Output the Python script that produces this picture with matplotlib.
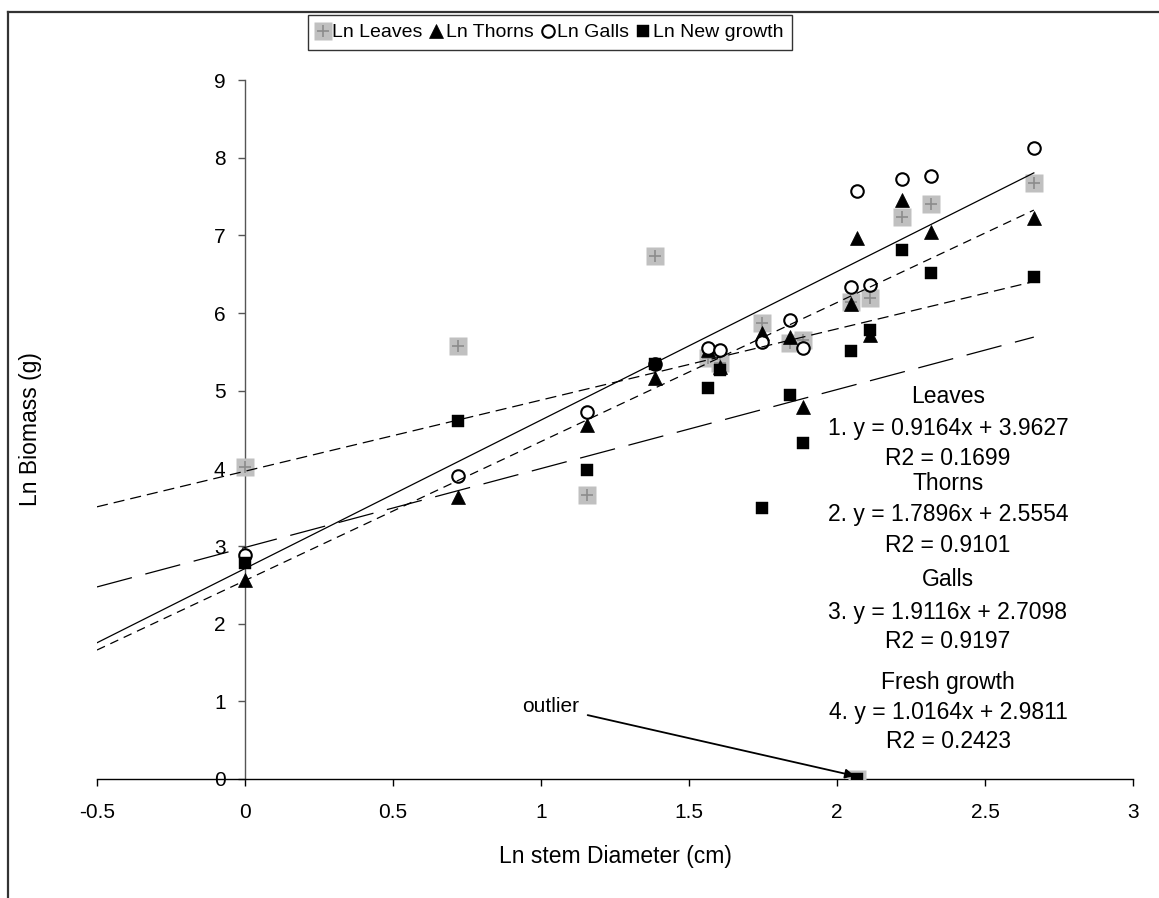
import matplotlib
matplotlib.use("Agg")
import matplotlib.pyplot as plt
from matplotlib.lines import Line2D
from matplotlib.legend_handler import HandlerTuple
import numpy as np

plt.rcParams['font.family'] = ['Liberation Sans', 'DejaVu Sans']
plt.rcParams['lines.scale_dashes'] = False

# Ln stem diameter (cm) for each sampled tree
ln_diameter = [0.0, 0.72, 1.155, 1.386, 1.565, 1.605, 1.747, 1.841, 1.886,
               2.046, 2.067, 2.11, 2.22, 2.318, 2.665]

# Ln biomass (g) per component
ln_leaves = [4.02, 5.57, 3.66, 6.74, 5.42, 5.35, 5.87, 5.61, 5.65,
             6.14, 0.0, 6.19, 7.23, 7.40, 7.67]
ln_thorns = [2.56, 3.63, 4.56, 5.16, 5.52, 5.31, 5.74, 5.69, 4.79,
             6.11, 6.96, 5.72, 7.45, 7.04, 7.22]
ln_galls = [2.88, 3.90, 4.73, 5.34, 5.55, 5.53, 5.63, 5.91, 5.55,
            6.34, 7.57, 6.36, 7.72, 7.76, 8.13]
ln_new_growth = [2.78, 4.61, 3.98, 5.34, 5.03, 5.26, 3.49, 4.95, 4.32,
                 5.51, 0.0, 5.78, 6.81, 6.52, 6.46]

# Fitted trendlines: (name, slope, intercept, R2)
fit_names = ["Leaves", "Thorns", "Galls", "Fresh growth"]
fit_slopes = [0.9164, 1.7896, 1.9116, 1.0164]
fit_intercepts = [3.9627, 2.5554, 2.7098, 2.9811]
fit_r2 = [0.1699, 0.9101, 0.9197, 0.2423]

x_ticks = [-0.5, 0, 0.5, 1, 1.5, 2, 2.5, 3]
x_tick_labels = ["-0.5", "0", "0.5", "1", "1.5", "2", "2.5", "3"]
y_ticks = list(range(0, 10))

W, H = 1159, 898
fig = plt.figure(figsize=(W / 100, H / 100), dpi=100)
ax = fig.add_axes([97 / W, 1 - 779 / H, (1133 - 97) / W, (779 - 80) / H])

FS = 15
FS_LABEL = 16.5
FS_EQ = 16.5
FS_LEG = 14

x = np.array(ln_diameter)

# markers
leaf_sq = dict(marker='s', ms=13, mfc='#c0c0c0', mec='none', ls='none')
leaf_plus = dict(marker='+', ms=8.5, mec='#8c8c8c', mew=1.2, ls='none')
thorn_kw = dict(marker='^', ms=9.4, mfc='black', mec='black', mew=0.5, ls='none')
gall_kw = dict(marker='o', ms=9.0, mfc='white', mec='black', mew=1.5, ls='none')
new_kw = dict(marker='s', ms=8.3, mfc='black', mec='black', mew=0.3, ls='none')

ax.plot(x, ln_leaves, zorder=3, **leaf_sq)
ax.plot(x, ln_leaves, zorder=3.1, **leaf_plus)
ax.plot(x, ln_thorns, zorder=3.2, **thorn_kw)
ax.plot(x, ln_galls, zorder=3.3, **gall_kw)
ax.plot(x, ln_new_growth, zorder=3.4, **new_kw)

# trendlines from x = -0.5 to the largest stem diameter
line_dashes = [(8, 4.3), (6.3, 4.3), None, (26, 10)]
xl = np.array([-0.5, max(ln_diameter)])
for slope, icpt, dashes in zip(fit_slopes, fit_intercepts, line_dashes):
    ln, = ax.plot(xl, slope * xl + icpt, color='black', lw=0.9, zorder=4)
    if dashes is not None:
        ln.set_dashes(dashes)

ax.set_xlim(-0.5, 3)
ax.set_ylim(0, 9)

ax.spines['top'].set_visible(False)
ax.spines['right'].set_visible(False)
ax.spines['left'].set_position(('data', 0))
ax.spines['left'].set_color('#555555')
ax.spines['left'].set_linewidth(1.0)
ax.spines['bottom'].set_color('black')
ax.spines['bottom'].set_linewidth(1.0)

ax.set_xticks(x_ticks)
ax.set_xticklabels(x_tick_labels)
ax.set_yticks(y_ticks)
ax.tick_params(axis='x', direction='out', length=5, width=1, pad=12, labelsize=FS)
ax.tick_params(axis='y', direction='out', length=5, width=1, pad=9, labelsize=FS,
               color='#555555')

ax.set_xlabel("Ln stem Diameter (cm)", fontsize=FS_LABEL)
ax.xaxis.set_label_coords(0.5, (779 - 857) / 699, transform=ax.transAxes)
ax.xaxis.label.set_va('center')
ax.set_ylabel("Ln Biomass (g)", fontsize=FS_LABEL)
ax.yaxis.set_label_coords((30 - 97) / 1036, 0.5, transform=ax.transAxes)
ax.yaxis.label.set_va('center')

# regression equations block
text_x = 948
rows = []
for i, (name, s, b, r2) in enumerate(zip(fit_names, fit_slopes, fit_intercepts, fit_r2)):
    rows.append(name)
    rows.append(f"{i + 1}. y = {s:.4f}x + {b:.4f}")
    rows.append(f"R2 = {r2:.4f}")
row_y = [397, 428, 458, 483, 515, 545, 580, 612, 642, 682, 712, 742]
for txt, py in zip(rows, row_y):
    fig.text(text_x / W, 1 - py / H, txt, ha='center', va='center', fontsize=FS_EQ)

# outlier annotation
ax.annotate("outlier", xy=(2.06, 0.04), xytext=(1.13, 0.93),
            ha='right', va='center', fontsize=FS,
            arrowprops=dict(arrowstyle='-|>', color='black', lw=1.3,
                            shrinkA=4, shrinkB=0, mutation_scale=14))

# legend
h_leaf = (Line2D([], [], **leaf_sq), Line2D([], [], **leaf_plus))
h_thorn = Line2D([], [], **thorn_kw)
h_gall = Line2D([], [], **gall_kw)
h_new = Line2D([], [], **new_kw)
leg = fig.legend([h_leaf, h_thorn, h_gall, h_new],
                 ["Ln Leaves", "Ln Thorns", "Ln Galls", "Ln New growth"],
                 handler_map={tuple: HandlerTuple(ndivide=1, pad=0)},
                 loc='upper center', bbox_to_anchor=(550 / W, 1 - 15 / H),
                 ncol=4, fontsize=FS_LEG, frameon=True, fancybox=False,
                 edgecolor='black', handlelength=0.6, handletextpad=0.2,
                 columnspacing=0.4, borderpad=0.45, borderaxespad=0)
leg.get_frame().set_linewidth(1.0)

# outer frame of the chart area
fig.add_artist(Line2D([8 / W, 8 / W], [0, 1 - 12 / H], transform=fig.transFigure,
                      color='#333333', lw=1.6))
fig.add_artist(Line2D([8 / W, 1], [1 - 12 / H, 1 - 12 / H], transform=fig.transFigure,
                      color='#333333', lw=1.6))

fig.savefig("out.png", dpi=100)
